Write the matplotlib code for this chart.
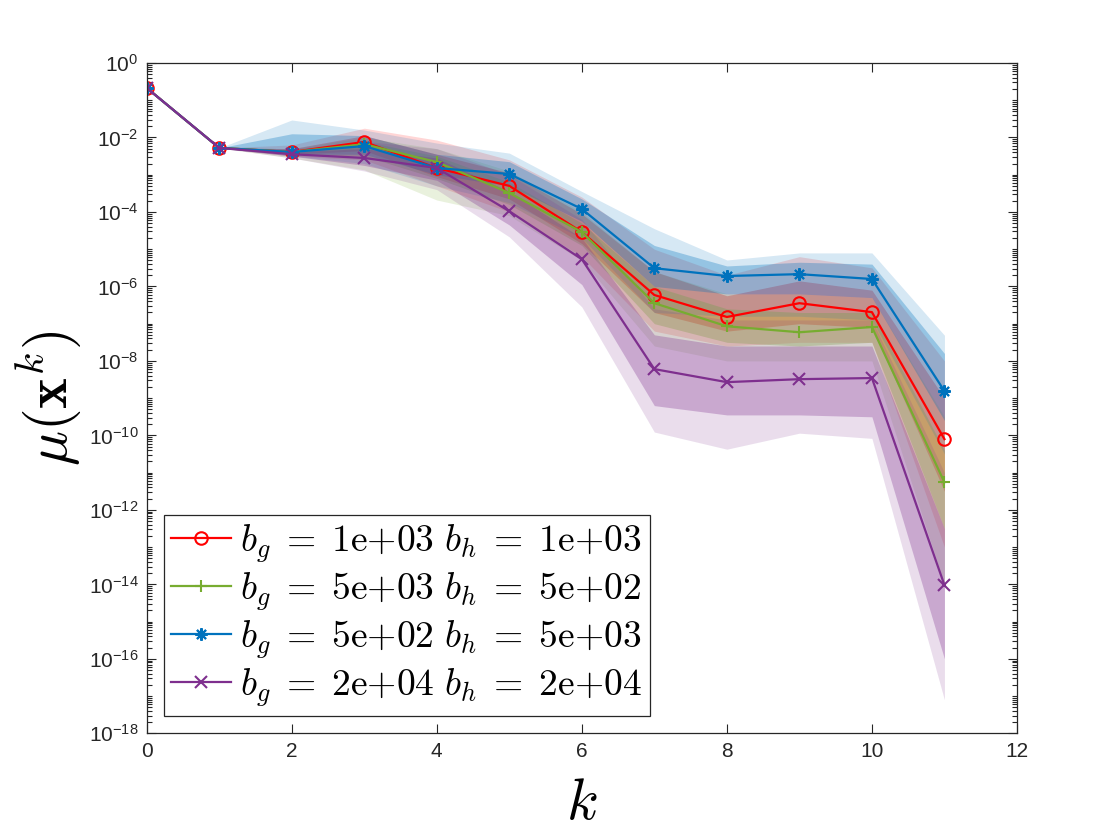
import numpy as np
import matplotlib
matplotlib.use('Agg')
import matplotlib.pyplot as plt
from matplotlib.ticker import LogLocator, FuncFormatter, NullFormatter, FixedLocator

plt.rcParams['mathtext.fontset'] = 'cm'
plt.rcParams['font.family'] = ['Liberation Sans', 'DejaVu Sans']

# iteration index
k = np.arange(12)

# log10 of mu(x^k): median line, outer band (lo/hi) and inner band (lo/hi)
red_mid = [-0.67, -2.28, -2.39, -2.12, -2.82, -3.30, -4.54, -6.23, -6.82, -6.45, -6.69, -10.10]
red_out_hi = [-0.67, -2.28, -2.20, -1.75, -2.07, -2.60, -3.60, -5.00, -5.70, -5.20, -5.50, -8.00]
red_out_lo = [-0.67, -2.28, -2.50, -2.60, -3.30, -4.00, -5.20, -7.20, -7.60, -7.50, -7.50, -13.00]
red_in_hi = [-0.67, -2.28, -2.30, -1.95, -2.45, -2.95, -4.05, -5.60, -6.25, -5.85, -6.10, -9.00]
red_in_lo = [-0.67, -2.28, -2.45, -2.35, -3.05, -3.65, -4.85, -6.70, -7.20, -7.00, -7.10, -11.50]

green_mid = [-0.67, -2.28, -2.39, -2.18, -2.66, -3.49, -4.54, -6.45, -7.07, -7.23, -7.09, -11.26]
green_out_hi = [-0.67, -2.28, -2.30, -2.00, -2.30, -2.90, -4.00, -5.60, -6.20, -6.20, -6.30, -9.50]
green_out_lo = [-0.67, -2.28, -2.55, -2.87, -3.68, -4.10, -5.30, -7.60, -8.00, -8.00, -8.00, -14.00]
green_in_hi = [-0.67, -2.28, -2.35, -2.10, -2.50, -3.20, -4.30, -6.00, -6.60, -6.70, -6.70, -10.40]
green_in_lo = [-0.67, -2.28, -2.45, -2.50, -3.10, -3.80, -4.90, -7.00, -7.50, -7.60, -7.50, -12.50]

blue_mid = [-0.67, -2.28, -2.39, -2.23, -2.82, -2.98, -3.92, -5.51, -5.72, -5.67, -5.80, -8.81]
blue_out_hi = [-0.67, -2.28, -1.53, -1.80, -2.15, -2.42, -3.45, -4.45, -5.29, -5.10, -5.10, -7.31]
blue_out_lo = [-0.67, -2.28, -2.50, -2.70, -3.30, -3.75, -4.70, -6.70, -6.80, -6.80, -6.90, -10.50]
blue_in_hi = [-0.67, -2.28, -1.90, -1.95, -2.45, -2.65, -3.65, -4.90, -5.45, -5.35, -5.40, -7.80]
blue_in_lo = [-0.67, -2.28, -2.45, -2.45, -3.00, -3.30, -4.25, -6.00, -6.20, -6.20, -6.30, -9.60]

purple_mid = [-0.67, -2.28, -2.45, -2.55, -2.82, -3.98, -5.27, -8.22, -8.57, -8.49, -8.46, -14.02]
purple_out_hi = [-0.67, -2.28, -2.30, -2.10, -2.30, -3.00, -4.20, -6.60, -6.90, -6.90, -6.90, -11.00]
purple_out_lo = [-0.67, -2.28, -2.55, -2.90, -3.40, -4.67, -6.55, -9.91, -10.37, -9.94, -10.08, -17.10]
purple_in_hi = [-0.67, -2.28, -2.38, -2.30, -2.55, -3.45, -4.70, -7.30, -7.60, -7.60, -7.60, -12.50]
purple_in_lo = [-0.67, -2.28, -2.50, -2.75, -3.15, -4.35, -5.95, -9.20, -9.45, -9.45, -9.50, -16.00]

labels = [r'$b_g\;=\;\mathrm{1e{+}03}\ b_h\;=\;\mathrm{1e{+}03}$',
          r'$b_g\;=\;\mathrm{5e{+}03}\ b_h\;=\;\mathrm{5e{+}02}$',
          r'$b_g\;=\;\mathrm{5e{+}02}\ b_h\;=\;\mathrm{5e{+}03}$',
          r'$b_g\;=\;\mathrm{2e{+}04}\ b_h\;=\;\mathrm{2e{+}04}$']

series = [
    (red_mid, red_out_lo, red_out_hi, red_in_lo, red_in_hi, (1, 0, 0), 'o'),
    (green_mid, green_out_lo, green_out_hi, green_in_lo, green_in_hi, (0.466, 0.674, 0.188), '+'),
    (blue_mid, blue_out_lo, blue_out_hi, blue_in_lo, blue_in_hi, (0, 0.447, 0.741), (8, 2, 0)),
    (purple_mid, purple_out_lo, purple_out_hi, purple_in_lo, purple_in_hi, (0.494, 0.184, 0.556), 'x'),
]

fig = plt.figure(figsize=(11.2, 8.4), dpi=100)
ax = fig.add_axes([0.131, 0.127, 0.777, 0.798])

# bands first
for mid, olo, ohi, ilo, ihi, col, mk in series:
    ax.fill_between(k, 10.0 ** np.array(olo), 10.0 ** np.array(ohi), color=col, alpha=0.16, lw=0)
    ax.fill_between(k, 10.0 ** np.array(ilo), 10.0 ** np.array(ihi), color=col, alpha=0.3, lw=0)

# then lines
for (mid, olo, ohi, ilo, ihi, col, mk), lab in zip(series, labels):
    ax.plot(k, 10.0 ** np.array(mid), color=col, marker=mk, ms=9,
            mfc='none', mew=1.5, lw=1.6, label=lab)

ax.set_yscale('log')
ax.set_xlim(0, 12)
ax.set_ylim(1e-18, 1)
ax.set_xticks(np.arange(0, 13, 2))
ax.yaxis.set_major_locator(FixedLocator([10.0 ** e for e in range(-18, 1, 2)]))
ax.yaxis.set_minor_locator(LogLocator(base=10, subs=np.arange(1, 10), numticks=40))
ax.yaxis.set_minor_formatter(NullFormatter())
ax.yaxis.set_major_formatter(FuncFormatter(lambda v, p: r'$\mathregular{10^{%d}}$' % round(np.log10(v))))

ax.tick_params(which='both', direction='in', top=True, right=True, colors='0.15',
               labelsize=15, width=0.8)
ax.tick_params(which='major', length=6.5, pad=6)
ax.tick_params(which='minor', length=3.5)
for s in ax.spines.values():
    s.set_color('0.15')
    s.set_linewidth(0.9)

ax.set_xlabel(r'$k$', fontsize=42, labelpad=12)
ax.set_ylabel(r'$\mu(\mathbf{x}^k)$', fontsize=42, labelpad=4)

leg = ax.legend(loc='lower left', fontsize=27, handlelength=1.6, handletextpad=0.25,
                labelspacing=0.15, borderpad=0.2, borderaxespad=0.45, fancybox=False,
                framealpha=1, edgecolor='0.15')
leg.get_frame().set_linewidth(0.9)

fig.savefig('out.png', dpi=100)
